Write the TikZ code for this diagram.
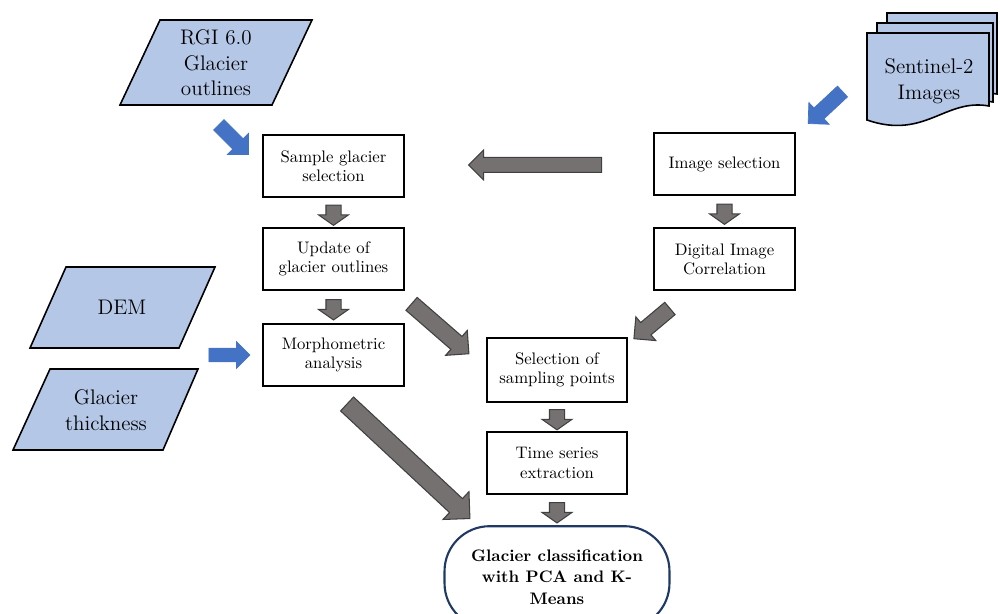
\documentclass[tikz,border=0pt]{standalone}
\usetikzlibrary{positioning,shapes.arrows}
\definecolor{inputblue}{HTML}{B4C7E7}
\definecolor{flowblue}{HTML}{4472C4}
\definecolor{arrowgray}{HTML}{767171}
\definecolor{arrowedge}{HTML}{404040}
\definecolor{resultnavy}{HTML}{1F3864}
\begin{document}
\begin{tikzpicture}[x=0.02cm,y=-0.02cm]

    % Define node styles
    \tikzstyle{process_block} = [draw, line width=1.2pt, fill=white, minimum width=2.82cm, minimum height=1.24cm, align=center, font=\fontsize{9.5}{11}\selectfont]
    \tikzstyle{input_shape} = [draw, line width=0.9pt, fill=inputblue]
    \tikzstyle{input_text} = [align=center, font=\fontsize{12}{14.5}\selectfont]
    \tikzstyle{result_block} = [draw=resultnavy, line width=1.2pt, rounded corners=0.9cm, minimum width=4.5cm, minimum height=2.04cm, align=center, font=\fontsize{9.5}{12.5}\selectfont\bfseries]
    \tikzstyle{gray_arrow} = [single arrow, draw=arrowedge, fill=arrowgray, line width=0.6pt, inner sep=0.14cm, single arrow head extend=0.15cm]
    \tikzstyle{small_arrow} = [gray_arrow, minimum height=0.4cm, single arrow tip angle=110]
    \tikzstyle{blue_arrow} = [single arrow, draw=flowblue, fill=flowblue, inner sep=0.14cm, single arrow head extend=0.15cm]

    \useasboundingbox (0,0) rectangle (1000,613);

    % Draw input shapes
    \draw [input_shape] (160,20) -- (312,20) -- (272,105) -- (120,105) -- cycle;
    \node [input_text] (rgi) at (216,63) {RGI 6.0\\ Glacier\\ outlines};

    \draw [input_shape] (66,267) -- (215,267) -- (179,348) -- (30,348) -- cycle;
    \node [input_text] (dem) at (122,307) {DEM};

    \draw [input_shape] (50,369) -- (198,369) -- (163,450) -- (13,450) -- cycle;
    \node [input_text] (thickness) at (106,410) {Glacier\\ thickness};

    \draw [input_shape] (887,13) -- (997,13) -- (997,94) .. controls (960,88) and (940,120) .. (887,108) -- cycle;
    \draw [input_shape] (877,23) -- (993,23) -- (993,102) .. controls (955,95) and (932,128) .. (877,115) -- cycle;
    \draw [input_shape] (867,33) -- (989,33) -- (989,106) .. controls (945,98) and (925,140) .. (867,120) -- cycle;
    \node [input_text] (sentinel) at (929,81) {Sentinel-2\\ Images};

    % Draw nodes
    \node [process_block] (sample) at (333.5,166) {Sample glacier\\ selection};
    \node [process_block, below=0.58cm of sample] (update) {Update of\\ glacier outlines};
    \node [process_block, below=0.64cm of update] (morpho) {Morphometric\\ analysis};
    \node [process_block] (image) at (724.5,164) {Image selection};
    \node [process_block, below=0.62cm of image] (dic) {Digital Image\\ Correlation};
    \node [process_block, minimum width=2.8cm, minimum height=1.28cm] (sampling) at (557,370) {Selection of\\ sampling points};
    \node [process_block, minimum width=2.8cm, below=0.56cm of sampling] (series) {Time series\\ extraction};
    \node [result_block, below=0.6cm of series] (classification) {Glacier classification\\ with PCA and K-\\ Means};

    % Draw arrows
    \node [blue_arrow, minimum height=0.84cm, rotate=-45] (rgi_arrow) at (231,137) {};
    \node [blue_arrow, minimum height=0.94cm, rotate=-137] (sentinel_arrow) at (828,105) {};
    \node [blue_arrow, minimum height=0.82cm, inner sep=0.13cm, single arrow head extend=0.13cm] (dem_arrow) at (226,355) {};

    \path (image.west) -- (sample.east) node [pos=0.46, gray_arrow, minimum height=2.66cm, rotate=180] (image_sample) {};
    \path (sample.south) -- (update.north) node [midway, small_arrow, rotate=-90] (sample_update) {};
    \path (update.south) -- (morpho.north) node [midway, small_arrow, rotate=-90] (update_morpho) {};
    \path (image.south) -- (dic.north) node [midway, small_arrow, rotate=-90] (image_dic) {};
    \path (sampling.south) -- (series.north) node [midway, small_arrow, rotate=-90] (sampling_series) {};
    \path (series.south) -- (classification.north) node [midway, small_arrow, rotate=-90] (series_classification) {};

    \node [gray_arrow, minimum height=1.52cm, inner sep=0.16cm, single arrow head extend=0.16cm, rotate=-41] (update_sampling) at (437,326) {};
    \node [gray_arrow, minimum height=0.94cm, inner sep=0.15cm, rotate=-140] (dic_sampling) at (655,321) {};
    \node [gray_arrow, minimum height=3.36cm, inner sep=0.18cm, single arrow head extend=0.19cm, rotate=-43] (morpho_classification) at (405,458) {};

\end{tikzpicture}
\end{document}
